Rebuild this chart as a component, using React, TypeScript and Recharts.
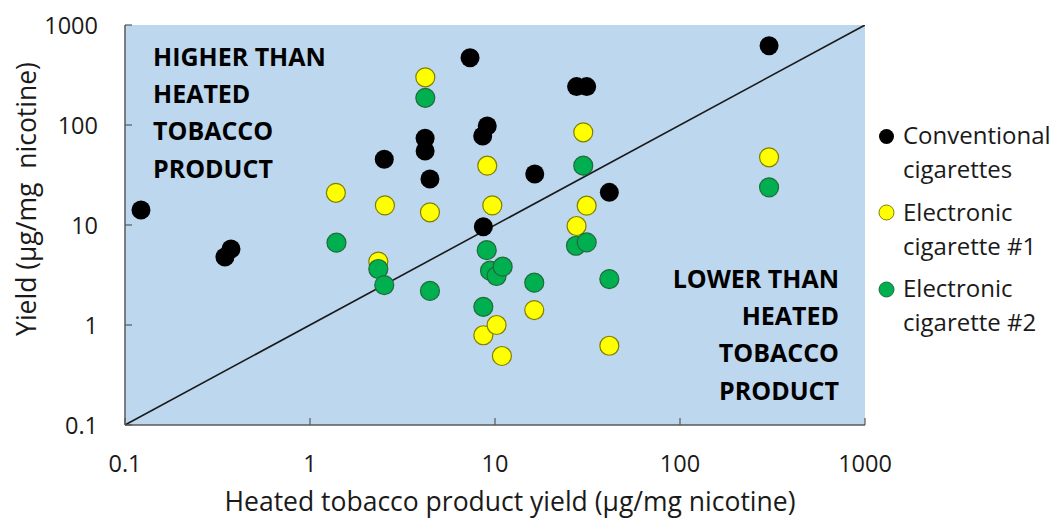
import { ScatterChart, Scatter, XAxis, YAxis, CartesianGrid, Legend } from 'recharts'

const decades = [0.1, 1, 10, 100, 1000]
const decadeLabels = ['0.1', '1', '10', '100', '1000']

const conventionalX = [0.122, 0.347, 0.374, 2.52, 4.19, 4.19, 4.45, 7.33, 8.58, 9.08, 8.65, 16.4, 27.6, 31.3, 41.5, 303]
const conventionalY = [14.1, 4.79, 5.75, 45.4, 73.6, 55, 28.8, 471, 77.6, 97.7, 9.62, 32.4, 242, 242, 21.2, 621]

const ecig1X = [1.38, 2.54, 2.34, 4.2, 4.45, 9.08, 9.67, 8.65, 10.2, 10.9, 16.3, 27.6, 30, 31.3, 41.5, 303]
const ecig1Y = [21, 15.7, 4.3, 300, 13.4, 39.2, 15.7, 0.79, 1.0, 0.49, 1.41, 9.77, 84.5, 15.6, 0.62, 47.5]

const ecig2X = [1.39, 2.34, 2.52, 4.2, 4.45, 9.02, 9.4, 10.2, 11.0, 8.65, 16.3, 27.4, 30, 31.3, 41.5, 303]
const ecig2Y = [6.65, 3.63, 2.51, 187, 2.19, 5.6, 3.49, 3.09, 3.83, 1.52, 2.65, 6.2, 39.2, 6.7, 2.88, 23.8]

// line of equality
const parityX = [0.1, 1000]
const parityY = [0.1, 1000]

const higherLabel = ['HIGHER THAN', 'HEATED', 'TOBACCO', 'PRODUCT']
const lowerLabel = ['LOWER THAN', 'HEATED', 'TOBACCO', 'PRODUCT']

const seriesNames = ['Conventional cigarettes', 'Electronic cigarette #1', 'Electronic cigarette #2']
const legendLines = [['Conventional', 'cigarettes'], ['Electronic', 'cigarette #1'], ['Electronic', 'cigarette #2']]
const seriesFill = ['#000000', '#FFFF00', '#00B050']
const seriesStroke = ['#000000', '#7F7F00', '#1F6B3A']

const FONT = '"Open Sans", "DejaVu Sans", sans-serif'
const TEXT = '#1a1a1a'
const FRAME = '#595959'
const PLOT_BG = '#BDD7EE'

const zip = (xs: number[], ys: number[]) => xs.map((x, i) => ({ x, y: ys[i] }))

const conventional = zip(conventionalX, conventionalY)
const ecig1 = zip(ecig1X, ecig1Y)
const ecig2 = zip(ecig2X, ecig2Y)
const parity = zip(parityX, parityY)

const label = (v: number) => decadeLabels[decades.indexOf(v)] ?? String(v)

const XTick = ({ x, y, payload }: any) => (
  <g>
    <line x1={x} x2={x} y1={y} y2={y - 7} stroke={FRAME} strokeWidth={1.2} />
    <text x={x} y={y + 38} textAnchor="middle" dominantBaseline="central" fontFamily={FONT} fontSize={23.5} fill={TEXT}>
      {label(payload.value)}
    </text>
  </g>
)

const YTick = ({ x, y, payload }: any) => (
  <g>
    <line x1={x} x2={x + 7} y1={y} y2={y} stroke={FRAME} strokeWidth={1.2} />
    <text x={x - 27} y={y} textAnchor="end" dominantBaseline="central" fontFamily={FONT} fontSize={23.5} fill={TEXT}>
      {label(payload.value)}
    </text>
  </g>
)

const XTitle = ({ viewBox }: any) => (
  <text x={viewBox.x + viewBox.width / 2 + 15} y={501} textAnchor="middle" dominantBaseline="central"
    fontFamily={FONT} fontSize={26.5} fill={TEXT}>
    Heated tobacco product yield (μg/mg nicotine)
  </text>
)

const YTitle = ({ viewBox }: any) => {
  const cx = viewBox.x + 26
  const cy = viewBox.y + viewBox.height / 2 - 26
  return (
    <text x={cx} y={cy} transform={`rotate(-90 ${cx} ${cy})`} textAnchor="middle" dominantBaseline="central"
      fontFamily={FONT} fontSize={26.5} fill={TEXT} style={{ whiteSpace: 'pre' }}>
      {'Yield (μg/mg  nicotine)'}
    </text>
  )
}

const dot = (i: number, r: number) => (p: any) => (
  <circle cx={p.cx} cy={p.cy} r={r} fill={seriesFill[i]} stroke={seriesStroke[i]} strokeWidth={i === 0 ? 0 : 1.2} />
)

const LegendBox = () => (
  <div style={{ fontFamily: FONT, fontSize: 24, lineHeight: '34px', color: TEXT, textAlign: 'left' }}>
    {legendLines.map((lines, i) => (
      <div key={i} style={{ position: 'relative', paddingLeft: 27, marginBottom: 8.5 }}>
        <svg width={17} height={17} style={{ position: 'absolute', left: 2, top: 9.5 }}>
          <circle cx={8.5} cy={8.5} r={7.5} fill={seriesFill[i]} stroke={seriesStroke[i]} strokeWidth={i === 0 ? 0 : 1} />
        </svg>
        {lines.map((t) => <div key={t}>{t}</div>)}
      </div>
    ))}
  </div>
)

const boxText = { position: 'absolute' as const, fontFamily: FONT, fontWeight: 700, fontSize: 25, lineHeight: '37.4px', color: '#000' }

export default function App() {
  return (
    <div style={{ position: 'absolute', left: 0, top: 0, width: 1055, height: 518, background: '#fff' }}>
      <ScatterChart width={1055} height={518} margin={{ top: 25, right: 190, bottom: 0, left: 0 }}>
        <CartesianGrid fill={PLOT_BG} stroke="none" horizontal={false} vertical={false} />
        <XAxis dataKey="x" type="number" scale="log" domain={[0.1, 1000]} ticks={decades} interval={0}
          allowDataOverflow height={93} tickSize={0} tickMargin={0} tick={<XTick />}
          axisLine={{ stroke: FRAME, strokeWidth: 1.5 }} label={<XTitle />} />
        <YAxis dataKey="y" type="number" scale="log" domain={[0.1, 1000]} ticks={decades} interval={0}
          allowDataOverflow width={125} tickSize={0} tickMargin={0} tick={<YTick />}
          axisLine={{ stroke: FRAME, strokeWidth: 1.5 }} label={<YTitle />} />
        <XAxis xAxisId="top" orientation="top" dataKey="x" type="number" scale="log" domain={[0.1, 1000]}
          allowDataOverflow height={0} tick={false} tickLine={false} axisLine={{ stroke: FRAME, strokeWidth: 1.5 }} />
        <YAxis yAxisId="right" orientation="right" dataKey="y" type="number" scale="log" domain={[0.1, 1000]}
          allowDataOverflow width={0} tick={false} tickLine={false} axisLine={{ stroke: FRAME, strokeWidth: 1.5 }} />
        <Legend layout="horizontal" align="center" verticalAlign="middle" content={<LegendBox />}
          wrapperStyle={{ left: 876, top: 118, width: 180, right: 'auto', bottom: 'auto' }} />
        <Scatter data={parity} line={{ stroke: '#1a1a1a', strokeWidth: 1.6 }} shape={() => <g />}
          legendType="none" isAnimationActive={false} />
        <Scatter name={seriesNames[0]} data={conventional} shape={dot(0, 9.5)} isAnimationActive={false} />
        <Scatter name={seriesNames[1]} data={ecig1} shape={dot(1, 9.5)} isAnimationActive={false} />
        <Scatter name={seriesNames[2]} data={ecig2} shape={dot(2, 9.5)} isAnimationActive={false} />
      </ScatterChart>
      <div style={{ ...boxText, left: 153, top: 37.5 }}>
        {higherLabel.map((t) => <div key={t}>{t}</div>)}
      </div>
      <div style={{ ...boxText, right: 216, top: 259.5, textAlign: 'right' }}>
        {lowerLabel.map((t) => <div key={t}>{t}</div>)}
      </div>
    </div>
  )
}
